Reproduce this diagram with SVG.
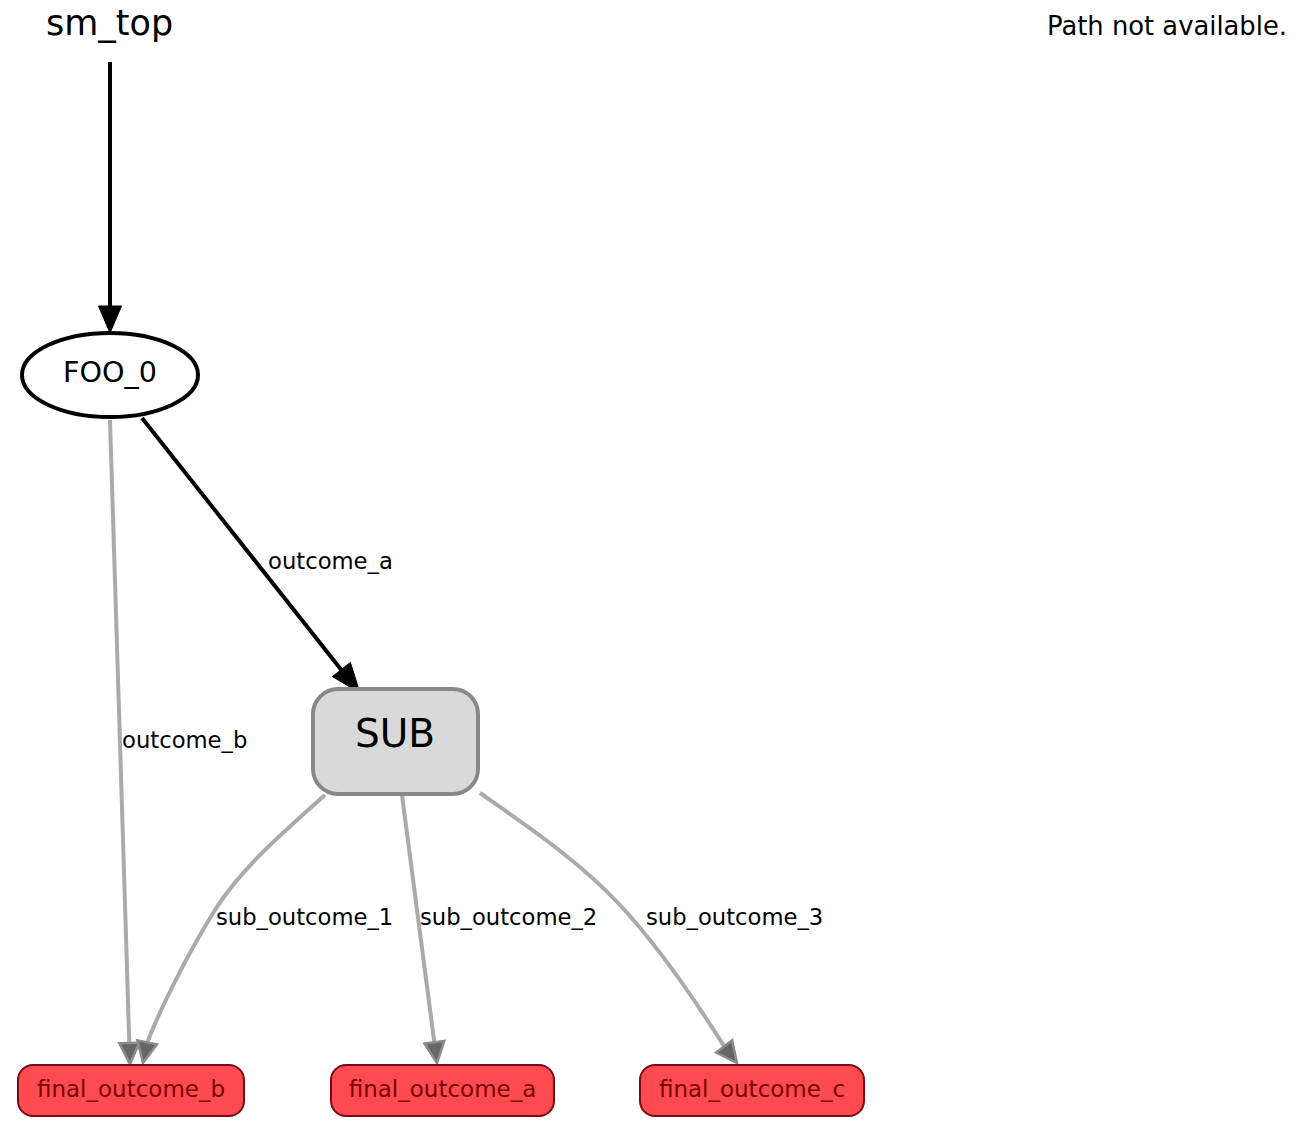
<svg xmlns="http://www.w3.org/2000/svg" width="1295" height="1133" viewBox="0 0 1295 1133">
  <style>
    text { font-family: "DejaVu Sans", "Liberation Sans", sans-serif; }
    .title { font-size: 35px; fill: #000; }
    .note { font-size: 25.8px; fill: #000; }
    .lbl { font-size: 22.7px; fill: #000; }
    .edge-main { fill: none; stroke: #000; stroke-width: 4; }
    .head-main { fill: #000; stroke: #000; stroke-width: 1; }
    .edge-grey { fill: none; stroke: #aaaaaa; stroke-width: 4; }
    .head-grey { fill: #666666; stroke: #8c8c8c; stroke-width: 2.5; stroke-linejoin: miter; }
    .final-box { fill: #fe4a51; stroke: #7a0b12; stroke-width: 2; }
    .final-txt { font-size: 23px; fill: #7a0000; text-anchor: middle; }
  </style>
  <rect width="1295" height="1133" fill="#ffffff"/>

  <text class="title" x="46" y="35">sm_top</text>
  <text class="note" x="1287" y="35" text-anchor="end">Path not available.</text>

  <g id="connectors">
    <!-- entry into FOO_0 -->
    <line class="edge-main" x1="110" y1="62" x2="110" y2="308"/>
    <polygon class="head-main" points="98.5,306 121.5,306 110,333"/>

    <!-- FOO_0 -> SUB -->
    <line class="edge-main" x1="142" y1="418" x2="343" y2="672"/>
    <polygon class="head-main" points="350.4,662.4 332.4,676.6 360,693"/>
    <text class="lbl" x="268" y="569">outcome_a</text>

    <!-- FOO_0 -> final_outcome_b -->
    <line class="edge-grey" x1="110" y1="420" x2="129.3" y2="1043"/>
    <polygon class="head-grey" points="139.3,1042.7 119.3,1043.3 130,1064"/>
    <text class="lbl" x="122" y="748">outcome_b</text>

    <!-- SUB -> final_outcome_b -->
    <path class="edge-grey" d="M325,795 C280,835 240,870 215,910 C185,958 160,1010 147.2,1042.4"/>
    <polygon class="head-grey" points="157,1044.4 137.4,1040.4 143,1063"/>
    <text class="lbl" x="216" y="925">sub_outcome_1</text>

    <!-- SUB -> final_outcome_a -->
    <line class="edge-grey" x1="402" y1="795" x2="434.3" y2="1042.2"/>
    <polygon class="head-grey" points="444.2,1040.9 424.4,1043.5 437,1063"/>
    <text class="lbl" x="420" y="925">sub_outcome_2</text>

    <!-- SUB -> final_outcome_c -->
    <path class="edge-grey" d="M480,793 C530,828 580,862 620,905 C660,948 695,1000 724.2,1046.4"/>
    <polygon class="head-grey" points="732.1,1040.3 716.3,1052.5 737,1063"/>
    <text class="lbl" x="646" y="925">sub_outcome_3</text>
  </g>

  <g id="FOO_0">
    <ellipse cx="110" cy="375" rx="88" ry="42" fill="#ffffff" stroke="#000" stroke-width="4"/>
    <text x="110" y="382" font-size="28.6" text-anchor="middle">FOO_0</text>
  </g>

  <g id="SUB">
    <rect x="313" y="689" width="165" height="105" rx="25" ry="25" fill="#d9d9d9" stroke="#888888" stroke-width="4"/>
    <text x="395" y="747" font-size="39" text-anchor="middle">SUB</text>
  </g>

  <g id="final_outcome_b">
    <rect class="final-box" x="18" y="1065" width="226" height="51" rx="15" ry="15"/>
    <text class="final-txt" x="131" y="1097">final_outcome_b</text>
  </g>

  <g id="final_outcome_a">
    <rect class="final-box" x="331" y="1065" width="223" height="51" rx="15" ry="15"/>
    <text class="final-txt" x="442.5" y="1097">final_outcome_a</text>
  </g>

  <g id="final_outcome_c">
    <rect class="final-box" x="640" y="1065" width="224" height="51" rx="15" ry="15"/>
    <text class="final-txt" x="752" y="1097">final_outcome_c</text>
  </g>
</svg>
